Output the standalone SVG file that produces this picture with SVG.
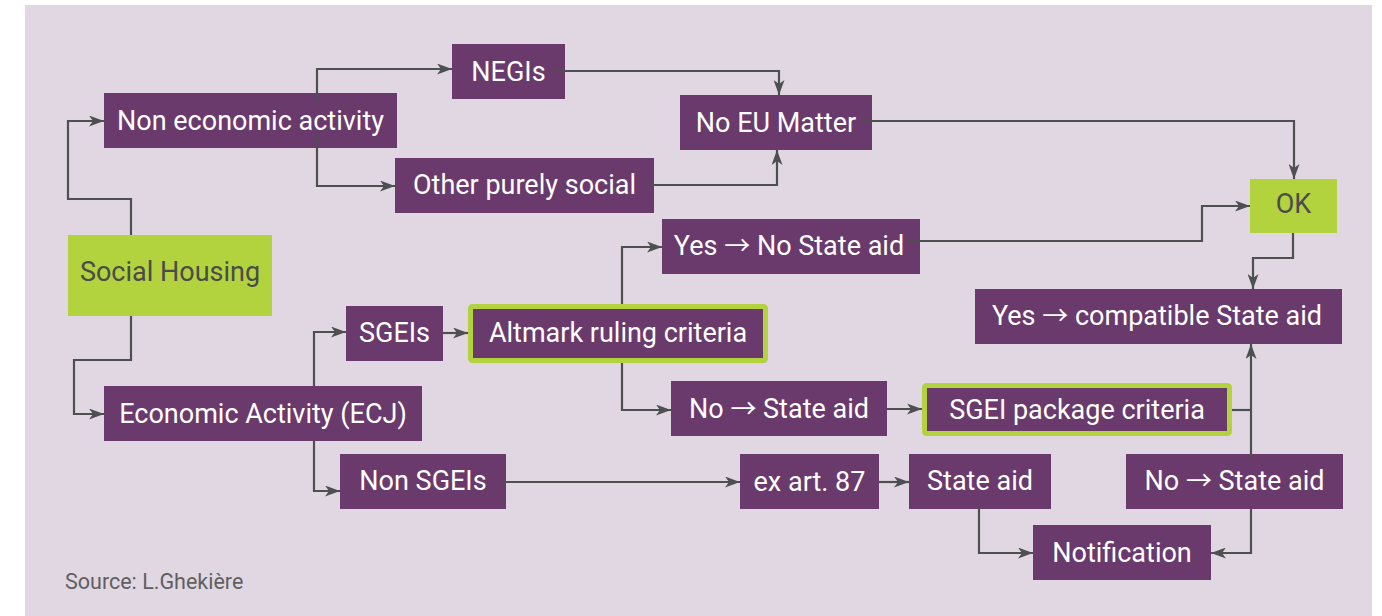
<svg xmlns="http://www.w3.org/2000/svg" width="1382" height="616" viewBox="0 0 1382 616">
<defs>
<style>
.bg{fill:#e1d7e3}
.box{fill:#6b3a6d}
.hl{fill:#6b3a6d;stroke:#b2d23e;stroke-width:5}
.grn{fill:#b2d23e}
.t{font-family:Roboto,"Liberation Sans",sans-serif;font-size:27px;fill:#ffffff;text-anchor:middle}
.td{font-family:Roboto,"Liberation Sans",sans-serif;font-size:27px;fill:#4a4b4b;text-anchor:middle}
.ar{font-family:"Noto Sans CJK JP","DejaVu Sans",sans-serif;font-size:26px}
.src{font-family:Roboto,"Liberation Sans",sans-serif;font-size:21.5px;fill:#5f5f60}
.c{fill:none;stroke:#4d4f50;stroke-width:2.2}
</style>
<marker id="ah" viewBox="0 0 15 11" refX="15" refY="5.5" markerWidth="15" markerHeight="11" markerUnits="userSpaceOnUse" orient="auto">
<path d="M0,0 L15,5.5 L0,11 L4,5.5 z" fill="#4d4f50"/>
</marker>
</defs>
<rect class="bg" x="25" y="5" width="1347" height="611"/>

<g id="n-social-housing"><rect class="grn" x="68" y="235" width="204" height="81"/><text class="td" x="170" y="281">Social Housing</text></g>
<g id="n-non-economic"><rect class="box" x="104" y="93" width="293" height="55"/><text class="t" x="250.5" y="130">Non economic activity</text></g>
<g id="n-negis"><rect class="box" x="452" y="44" width="113" height="55"/><text class="t" x="508.5" y="81">NEGIs</text></g>
<g id="n-other-social"><rect class="box" x="395" y="158" width="259" height="55"/><text class="t" x="524.5" y="194">Other purely social</text></g>
<g id="n-no-eu"><rect class="box" x="680" y="95" width="192" height="55"/><text class="t" x="776" y="132">No EU Matter</text></g>
<g id="n-ok"><rect class="grn" x="1250" y="179" width="87" height="54"/><text class="td" x="1293.5" y="213">OK</text></g>
<g id="n-yes-no-aid"><rect class="box" x="662" y="219" width="258" height="55"/><text class="t" x="789" y="255">Yes <tspan class="ar">→</tspan> No State aid</text></g>
<g id="n-yes-compatible"><rect class="box" x="975" y="289" width="367" height="55"/><text class="t" x="1157" y="325">Yes <tspan class="ar">→</tspan> compatible State aid</text></g>
<g id="n-sgeis"><rect class="box" x="346" y="306" width="97" height="55"/><text class="t" x="394.5" y="342">SGEIs</text></g>
<g id="n-altmark"><rect class="hl" x="470.5" y="306.5" width="295" height="54" rx="2"/><text class="t" x="618" y="342">Altmark ruling criteria</text></g>
<g id="n-economic"><rect class="box" x="104" y="386" width="318" height="55"/><text class="t" x="263" y="423">Economic Activity (ECJ)</text></g>
<g id="n-no-aid-mid"><rect class="box" x="671" y="381" width="216" height="55"/><text class="t" x="779" y="418">No <tspan class="ar">→</tspan> State aid</text></g>
<g id="n-sgei-package"><rect class="hl" x="924.5" y="385.5" width="305" height="48" rx="2"/><text class="t" x="1077" y="419">SGEI package criteria</text></g>
<g id="n-non-sgeis"><rect class="box" x="340" y="454" width="166" height="55"/><text class="t" x="423" y="490">Non SGEIs</text></g>
<g id="n-ex-art"><rect class="box" x="740" y="454" width="139" height="55"/><text class="t" x="809.5" y="491">ex art. 87</text></g>
<g id="n-state-aid"><rect class="box" x="909" y="454" width="142" height="55"/><text class="t" x="980" y="490">State aid</text></g>
<g id="n-no-aid-right"><rect class="box" x="1126" y="454" width="217" height="55"/><text class="t" x="1234.5" y="490">No <tspan class="ar">→</tspan> State aid</text></g>
<g id="n-notification"><rect class="box" x="1033" y="525" width="178" height="55"/><text class="t" x="1122" y="562">Notification</text></g>

<g id="connectors">
<path class="c" d="M131,235 V199 H68 V121 H104" marker-end="url(#ah)"/>
<path class="c" d="M131,316 V360 H74 V414 H104" marker-end="url(#ah)"/>
<path class="c" d="M317,103 V69 H452" marker-end="url(#ah)"/>
<path class="c" d="M317,133 V186 H395" marker-end="url(#ah)"/>
<path class="c" d="M553,71 H779 V95" marker-end="url(#ah)"/>
<path class="c" d="M648,185 H777 V150" marker-end="url(#ah)"/>
<path class="c" d="M861,121 H1294 V179" marker-end="url(#ah)"/>
<path class="c" d="M622,304 V247 H662" marker-end="url(#ah)"/>
<path class="c" d="M907,241 H1202 V206 H1250" marker-end="url(#ah)"/>
<path class="c" d="M1293,233 V258 H1253 V289" marker-end="url(#ah)"/>
<path class="c" d="M1232,410 H1251"/>
<path class="c" d="M1251,460 V344" marker-end="url(#ah)"/>
<path class="c" d="M1251,509 V553 H1211" marker-end="url(#ah)"/>
<path class="c" d="M979,505 V553 H1033" marker-end="url(#ah)"/>
<path class="c" d="M622,363 V410 H671" marker-end="url(#ah)"/>
<path class="c" d="M887,409 H922" marker-end="url(#ah)"/>
<path class="c" d="M501,482 H740" marker-end="url(#ah)"/>
<path class="c" d="M879,482 H909" marker-end="url(#ah)"/>
<path class="c" d="M443,333 H468" marker-end="url(#ah)"/>
<path class="c" d="M314,386 V332 H346" marker-end="url(#ah)"/>
<path class="c" d="M314,441 V491 H340" marker-end="url(#ah)"/>
</g>

<text class="src" x="65" y="589">Source: L.Ghekière</text>
</svg>
